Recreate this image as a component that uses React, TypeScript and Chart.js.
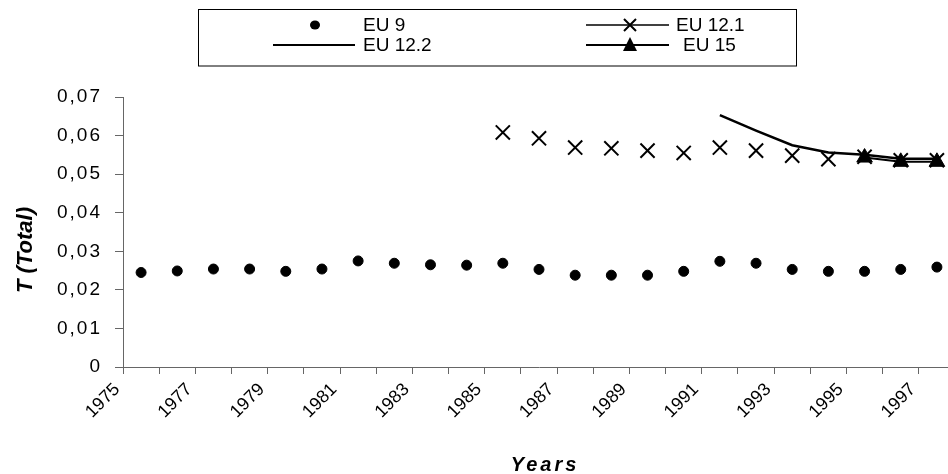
import React, { useEffect, useRef } from 'react';
import { Chart, registerables } from 'chart.js';

Chart.register(...registerables);

const years = ['1975', '1976', '1977', '1978', '1979', '1980', '1981', '1982', '1983', '1984', '1985', '1986', '1987', '1988', '1989', '1990', '1991', '1992', '1993', '1994', '1995', '1996', '1997'];
const shownTickLabels = ['1975', '1977', '1979', '1981', '1983', '1985', '1987', '1989', '1991', '1993', '1995', '1997'];

const eu9 = [0.0245, 0.0249, 0.0254, 0.0254, 0.0248, 0.0254, 0.0275, 0.0269, 0.0265, 0.0264, 0.0269, 0.0253, 0.0238, 0.0238, 0.0238, 0.0248, 0.0274, 0.0269, 0.0253, 0.0248, 0.0248, 0.0253, 0.0259];
const eu121 = [null, null, null, null, null, null, null, null, null, null, 0.0608, 0.0593, 0.0569, 0.0567, 0.0561, 0.0555, 0.0569, 0.0561, 0.0548, 0.0539, 0.0545, 0.0536, 0.0536];
const eu122 = [null, null, null, null, null, null, null, null, null, null, null, null, null, null, null, null, 0.0653, 0.0613, 0.0575, 0.0556, 0.0550, 0.0540, 0.0540];
const eu15 = [null, null, null, null, null, null, null, null, null, null, null, null, null, null, null, null, null, null, null, null, 0.0543, 0.0532, 0.0532];

const seriesNames = ['EU 9', 'EU 12.1', 'EU 12.2', 'EU 15'];
const yTitle = 'T (Total)';
const xTitle = 'Years';

const FONT = '"Liberation Sans", Arial, sans-serif';

const overlayPlugin = {
  id: 'overlay',
  beforeDraw(chart: any) {
    const y = chart.scales.y;
    if (y && !y.__wrapped) {
      const orig = y.drawLabels.bind(y);
      y.drawLabels = (area: any) => {
        const c = chart.ctx as any;
        c.save();
        c.letterSpacing = '2px';
        orig(area);
        c.restore();
      };
      y.__wrapped = true;
    }
  },
  afterDraw(chart: any) {
    const ctx = chart.ctx as CanvasRenderingContext2D;
    ctx.save();
    // legend box
    ctx.strokeStyle = '#000';
    ctx.lineWidth = 1;
    ctx.strokeRect(198.5, 9.5, 598, 56.5);
    ctx.fillStyle = '#000';
    ctx.font = `19px ${FONT}`;
    ctx.textBaseline = 'middle';
    ctx.textAlign = 'left';
    const r1 = 25;
    const r2 = 45;
    // EU 9
    ctx.beginPath();
    ctx.ellipse(315, r1, 5, 4.5, 0, 0, Math.PI * 2);
    ctx.fill();
    ctx.fillText(seriesNames[0], 363, r1 + 1);
    // EU 12.2
    ctx.beginPath();
    ctx.lineWidth = 2;
    ctx.moveTo(273, r2);
    ctx.lineTo(355, r2);
    ctx.stroke();
    ctx.fillText(seriesNames[2], 363, r2 + 1);
    // EU 12.1
    ctx.beginPath();
    ctx.lineWidth = 1.5;
    ctx.moveTo(586, r1);
    ctx.lineTo(669, r1);
    ctx.stroke();
    ctx.beginPath();
    ctx.lineWidth = 2;
    ctx.moveTo(624, r1 - 6);
    ctx.lineTo(636, r1 + 6);
    ctx.moveTo(636, r1 - 6);
    ctx.lineTo(624, r1 + 6);
    ctx.stroke();
    ctx.fillText(seriesNames[1], 676, r1 + 1);
    // EU 15
    ctx.beginPath();
    ctx.lineWidth = 2;
    ctx.moveTo(586, r2);
    ctx.lineTo(669, r2);
    ctx.stroke();
    ctx.beginPath();
    ctx.moveTo(630, r2 - 8);
    ctx.lineTo(637, r2 + 6);
    ctx.lineTo(623, r2 + 6);
    ctx.closePath();
    ctx.fill();
    ctx.fillText(seriesNames[3], 683, r2 + 1);

    // y axis title
    ctx.save();
    ctx.translate(26, 250);
    ctx.rotate(-Math.PI / 2);
    ctx.font = `italic bold 22px ${FONT}`;
    ctx.textAlign = 'center';
    ctx.textBaseline = 'middle';
    ctx.fillText(yTitle, 0, 0);
    ctx.restore();

    // x axis title
    ctx.font = `italic bold 20px ${FONT}`;
    (ctx as any).letterSpacing = '3px';
    ctx.textAlign = 'center';
    ctx.textBaseline = 'alphabetic';
    ctx.fillText(xTitle, 545, 471);
    (ctx as any).letterSpacing = '0px';
    ctx.restore();
  },
};

export default function App() {
  const ref = useRef<HTMLCanvasElement | null>(null);
  useEffect(() => {
    document.body.style.margin = '0';
    const canvas = ref.current;
    if (!canvas) return;
    const chart = new Chart(canvas, {
      type: 'line',
      data: {
        labels: years,
        datasets: [
          {
            label: seriesNames[0],
            data: eu9,
            showLine: false,
            pointStyle: 'circle',
            pointRadius: 5,
            pointBackgroundColor: '#000',
            pointBorderColor: '#000',
            borderColor: '#000',
            backgroundColor: '#000',
          },
          {
            label: seriesNames[1],
            data: eu121,
            showLine: false,
            pointStyle: 'crossRot',
            pointRadius: 10,
            pointBorderWidth: 2,
            pointBorderColor: '#000',
            borderColor: '#000',
          },
          {
            label: seriesNames[2],
            data: eu122,
            borderColor: '#000',
            borderWidth: 2.5,
            pointRadius: 0,
            tension: 0,
          },
          {
            label: seriesNames[3],
            data: eu15,
            borderColor: '#000',
            borderWidth: 2,
            pointStyle: 'triangle',
            pointRadius: 9,
            pointBorderWidth: 1,
            pointBackgroundColor: '#000',
            pointBorderColor: '#000',
          },
        ],
      },
      options: {
        responsive: false,
        animation: false,
        events: [],
        layout: { padding: { top: 97, left: 0, right: 1, bottom: 0 } },
        plugins: {
          legend: { display: false },
          title: { display: false },
          tooltip: { enabled: false },
        },
        scales: {
          x: {
            type: 'category',
            offset: true,
            grid: {
              offset: true,
              display: true,
              drawOnChartArea: false,
              drawTicks: true,
              tickLength: 7,
              color: '#666',
            },
            border: { display: true, color: '#666', width: 1 },
            ticks: {
              autoSkip: false,
              minRotation: 45,
              maxRotation: 45,
              color: '#000',
              font: { family: FONT, size: 18 },
              padding: 5,
              labelOffset: -24,
              callback: (_v: any, i: number) => (shownTickLabels.includes(years[i]) ? years[i] : ''),
            },
            afterFit: (s: any) => {
              s.height = 107;
            },
          },
          y: {
            min: 0,
            max: 0.07,
            grid: {
              display: true,
              drawOnChartArea: false,
              drawTicks: true,
              tickLength: 8,
              color: '#666',
            },
            border: { display: true, color: '#666', width: 1 },
            ticks: {
              stepSize: 0.01,
              color: '#000',
              padding: 13,
              font: { family: FONT, size: 19 },
              callback: (v: any) => (Number(v) === 0 ? '0' : Number(v).toFixed(2).replace('.', ',')),
            },
            afterFit: (s: any) => {
              s.width = 123;
            },
          },
        },
      },
      plugins: [overlayPlugin],
    });
    return () => chart.destroy();
  }, []);

  return (
    <div style={{ width: 948, height: 474, overflow: 'hidden', background: '#fff' }}>
      <canvas ref={ref} width={967} height={474} style={{ display: 'block', width: 967, height: 474 }} />
    </div>
  );
}
